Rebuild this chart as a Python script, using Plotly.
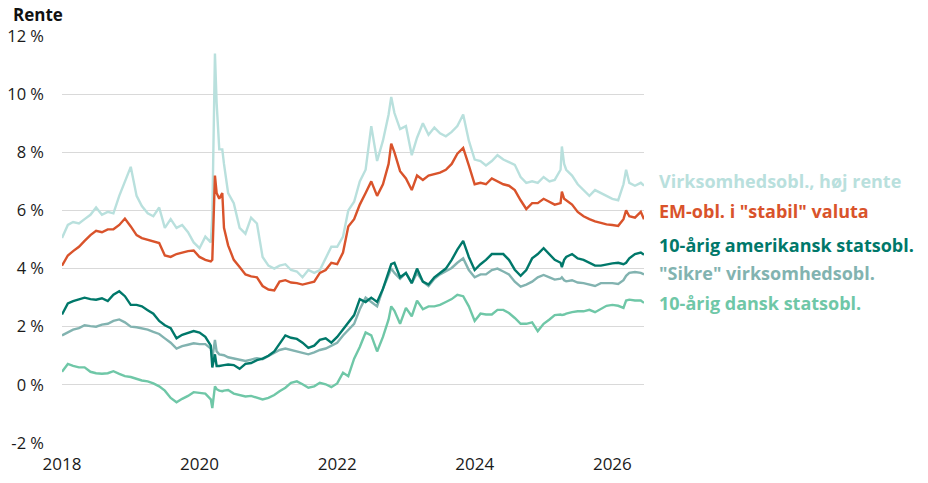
import plotly.graph_objects as go

# ---- dates (monthly, plus a few extra points around spikes) ----
dates = (
    ["2018-%02d-01" % m for m in range(1, 13)]
    + ["2019-%02d-01" % m for m in range(1, 13)]
    + ["2020-01-01", "2020-02-01", "2020-03-01", "2020-03-09", "2020-03-23", "2020-04-01",
       "2020-04-15", "2020-05-01", "2020-05-10", "2020-06-01", "2020-07-01", "2020-08-01",
       "2020-09-01", "2020-10-01", "2020-11-01", "2020-12-01"]
    + ["2021-%02d-01" % m for m in range(1, 13)]
    + ["2022-%02d-01" % m for m in range(1, 11)] + ["2022-10-15", "2022-11-01", "2022-12-01"]
    + ["2023-%02d-01" % m for m in range(1, 13)]
    + ["2024-%02d-01" % m for m in range(1, 13)]
    + ["2025-01-01", "2025-02-01", "2025-03-01", "2025-04-01", "2025-04-08", "2025-04-20"]
    + ["2025-%02d-01" % m for m in range(5, 13)]
    + ["2026-01-01", "2026-02-01", "2026-03-01", "2026-03-15", "2026-04-01", "2026-05-01",
       "2026-06-01", "2026-06-18"]
)

# Virksomhedsobl., høj rente
high_yield = [
    5.05, 5.5, 5.6, 5.55, 5.7, 5.85, 6.1, 5.85, 5.95, 5.9, 6.5, 7.0,
    7.5, 6.5, 6.15, 5.9, 5.8, 6.1, 5.4, 5.7, 5.4, 5.5, 5.25, 4.9,
    4.7, 5.1, 4.9, 5.8, 11.4, 9.7, 8.1, 8.1, 7.6, 6.6, 6.25, 5.4, 5.2, 5.75, 5.55, 4.4,
    4.1, 4.0, 4.1, 4.15, 3.95, 3.9, 3.7, 3.95, 3.85, 3.95, 4.35, 4.75,
    4.75, 5.1, 6.0, 6.3, 7.0, 7.4, 8.9, 7.7, 8.4, 9.3, 9.9, 9.35, 8.8,
    8.9, 7.9, 8.5, 9.0, 8.6, 8.85, 8.65, 8.55, 8.7, 8.9, 9.3, 8.4,
    7.75, 7.7, 7.55, 7.7, 7.9, 7.75, 7.65, 7.57, 7.15, 6.95, 7.0, 6.95,
    7.15, 7.0, 7.05, 7.4, 8.2, 7.6, 7.4, 7.2, 6.9, 6.7, 6.5, 6.7, 6.6, 6.5,
    6.4, 6.35, 6.9, 7.4, 6.95, 6.85, 6.95, 6.85,
]

# EM-obl. i "stabil" valuta
em_bonds = [
    4.1, 4.45, 4.6, 4.75, 4.95, 5.15, 5.3, 5.25, 5.35, 5.35, 5.5, 5.72,
    5.45, 5.15, 5.05, 5.0, 4.95, 4.88, 4.45, 4.4, 4.5, 4.55, 4.6, 4.62,
    4.4, 4.3, 4.25, 4.3, 7.2, 6.6, 6.4, 6.6, 5.4, 4.8, 4.3, 4.05, 3.8, 3.73, 3.7, 3.4,
    3.28, 3.25, 3.55, 3.6, 3.52, 3.5, 3.45, 3.5, 3.55, 3.85, 3.95, 4.2,
    4.15, 4.55, 5.45, 5.7, 6.2, 6.6, 7.0, 6.5, 6.9, 7.6, 8.3, 8.0, 7.35,
    7.1, 6.7, 7.2, 7.05, 7.2, 7.25, 7.3, 7.4, 7.6, 7.95, 8.15, 7.55,
    6.9, 6.95, 6.9, 7.1, 7.0, 6.9, 6.85, 6.7, 6.35, 6.05, 6.25, 6.25,
    6.4, 6.3, 6.2, 6.25, 6.65, 6.4, 6.35, 6.2, 5.95, 5.8, 5.7, 5.62, 5.57, 5.52,
    5.5, 5.47, 5.7, 6.0, 5.8, 5.75, 5.95, 5.7,
]

# 10-årig amerikansk statsobl.
us_10y = [
    2.42, 2.8, 2.88, 2.93, 3.0, 2.95, 2.93, 2.98, 2.88, 3.1, 3.22, 3.05,
    2.75, 2.75, 2.7, 2.57, 2.45, 2.2, 2.05, 1.95, 1.6, 1.72, 1.8, 1.85,
    1.8, 1.65, 1.35, 0.6, 1.05, 0.65, 0.65, 0.68, 0.68, 0.7, 0.68, 0.55, 0.72, 0.75, 0.85, 0.9,
    1.0, 1.15, 1.4, 1.7, 1.62, 1.58, 1.45, 1.27, 1.35, 1.55, 1.6, 1.45,
    1.65, 1.9, 2.15, 2.4, 2.95, 2.85, 3.0, 2.85, 3.3, 3.85, 4.15, 4.2, 3.7,
    3.85, 3.5, 4.0, 3.55, 3.45, 3.7, 3.85, 4.0, 4.3, 4.65, 4.95, 4.4,
    3.95, 4.15, 4.3, 4.5, 4.5, 4.5, 4.3, 3.96, 3.75, 3.95, 4.35, 4.5,
    4.7, 4.5, 4.3, 4.2, 4.05, 4.3, 4.4, 4.5, 4.35, 4.3, 4.2, 4.1, 4.1, 4.15,
    4.18, 4.2, 4.15, 4.2, 4.35, 4.5, 4.55, 4.48,
]

# "Sikre" virksomhedsobl.
ig_corp = [
    1.7, 1.82, 1.9, 1.95, 2.05, 2.02, 2.0, 2.07, 2.1, 2.2, 2.25, 2.15,
    2.0, 1.98, 1.95, 1.9, 1.82, 1.75, 1.6, 1.45, 1.25, 1.33, 1.38, 1.43,
    1.4, 1.4, 1.25, 0.9, 1.55, 1.15, 1.05, 1.04, 1.02, 0.95, 0.9, 0.85, 0.82, 0.87, 0.92, 0.88,
    1.0, 1.12, 1.2, 1.25, 1.2, 1.16, 1.1, 1.05, 1.12, 1.2, 1.25, 1.35,
    1.45, 1.7, 1.88, 2.1, 2.6, 3.0, 2.85, 2.7, 3.3, 3.75, 4.0, 3.85, 3.65,
    3.85, 3.5, 3.85, 3.55, 3.4, 3.65, 3.8, 3.9, 4.02, 4.2, 4.35, 3.95,
    3.7, 3.8, 3.8, 3.95, 4.0, 3.9, 3.8, 3.55, 3.38, 3.45, 3.55, 3.7,
    3.78, 3.7, 3.62, 3.65, 3.7, 3.6, 3.56, 3.6, 3.52, 3.5, 3.45, 3.4, 3.5, 3.5,
    3.5, 3.47, 3.6, 3.75, 3.85, 3.88, 3.85, 3.8,
]

# 10-årig dansk statsobl.
dk_10y = [
    0.45, 0.72, 0.65, 0.6, 0.6, 0.45, 0.4, 0.38, 0.4, 0.47, 0.38, 0.3,
    0.27, 0.2, 0.15, 0.12, 0.05, -0.05, -0.2, -0.45, -0.6, -0.48, -0.38, -0.25,
    -0.27, -0.3, -0.5, -0.8, -0.05, -0.15, -0.2, -0.22, -0.2, -0.18, -0.3, -0.35, -0.4, -0.38, -0.45, -0.5,
    -0.45, -0.35, -0.22, -0.1, 0.07, 0.12, 0.02, -0.1, -0.05, 0.07, 0.02, -0.08,
    0.05, 0.42, 0.3, 0.9, 1.3, 1.8, 1.7, 1.15, 1.65, 2.25, 2.7, 2.55, 2.1,
    2.65, 2.36, 2.9, 2.6, 2.7, 2.7, 2.75, 2.85, 2.95, 3.1, 3.05, 2.7,
    2.2, 2.45, 2.42, 2.42, 2.58, 2.58, 2.47, 2.3, 2.1, 2.1, 2.15, 1.85,
    2.1, 2.25, 2.4, 2.42, 2.4, 2.42, 2.45, 2.5, 2.53, 2.53, 2.58, 2.5, 2.6, 2.72,
    2.75, 2.72, 2.65, 2.9, 2.93, 2.9, 2.9, 2.82,
]

series_names = [
    "Virksomhedsobl., høj rente",
    'EM-obl. i "stabil" valuta',
    "10-årig amerikansk statsobl.",
    '"Sikre" virksomhedsobl.',
    "10-årig dansk statsobl.",
]
series_values = [high_yield, em_bonds, us_10y, ig_corp, dk_10y]
series_colors = ["#b9e0dd", "#d9532b", "#00786a", "#82b3b0", "#6fc7a7"]
label_y = [7.0, 5.97, 4.82, 3.86, 2.83]

x_tick_vals = ["2018-01-01", "2020-01-01", "2022-01-01", "2024-01-01", "2026-01-01"]
x_tick_text = ["2018", "2020", "2022", "2024", "2026"]
y_tick_vals = [-2, 0, 2, 4, 6, 8, 10, 12]
y_tick_text = ["-2 %", "0 %", "2 %", "4 %", "6 %", "8 %", "10 %", "12 %"]

FONT = "'Open Sans', Roboto, sans-serif"

fig = go.Figure()
draw_order = [0, 1, 3, 4, 2]
for i in draw_order:
    fig.add_trace(go.Scatter(
        x=dates, y=series_values[i], mode="lines", name=series_names[i],
        line=dict(color=series_colors[i], width=2.4),
        hoverinfo="skip", showlegend=False,
    ))

for name, color, ly in zip(series_names, series_colors, label_y):
    fig.add_annotation(
        x=1.0223, xref="paper", y=ly, yref="y", text="<b>%s</b>" % name,
        showarrow=False, xanchor="left", yanchor="middle",
        font=dict(family=FONT, size=18, color=color),
    )

fig.add_annotation(
    x=-0.0876, xref="paper", y=1.054, yref="paper", text="<b>Rente</b>",
    showarrow=False, xanchor="left", yanchor="middle",
    font=dict(family=FONT, size=17, color="#111111"),
)

fig.update_layout(
    width=928, height=483,
    margin=dict(l=62, r=284, t=36, b=40, autoexpand=False),
    paper_bgcolor="white", plot_bgcolor="white",
    font=dict(family=FONT, size=17, color="#1a1a1a"),
    xaxis=dict(
        type="date", range=["2018-01-01", "2026-06-18"],
        tickvals=x_tick_vals, ticktext=x_tick_text,
        showgrid=False, zeroline=False, showline=False, ticks="",
        ticklabelstandoff=9, automargin=False,
        tickfont=dict(size=17, color="#1a1a1a"),
    ),
    yaxis=dict(
        range=[-2, 12], tickvals=y_tick_vals, ticktext=y_tick_text,
        showgrid=True, gridcolor="#d9d9d9", gridwidth=1,
        zeroline=False, showline=False, ticks="",
        ticklabelstandoff=17, automargin=False,
        tickfont=dict(size=16.5, color="#1a1a1a"),
    ),
)

fig.write_html("out.html")
